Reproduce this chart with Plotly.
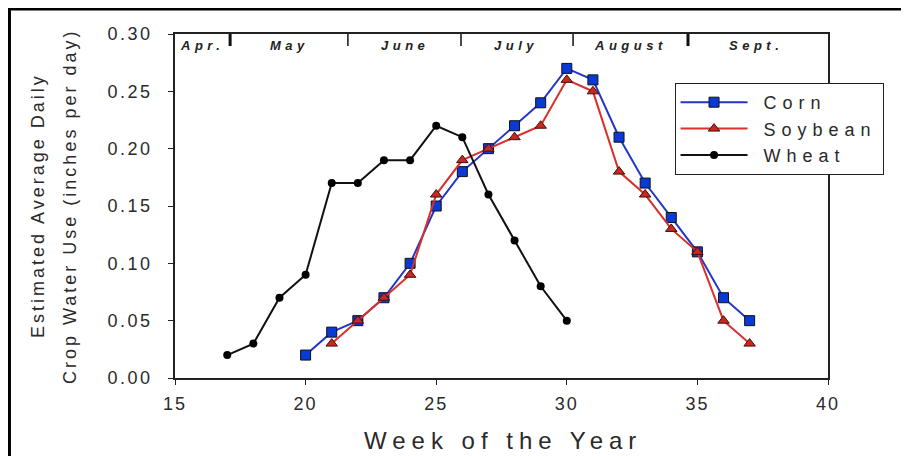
import plotly.graph_objects as go

# ---- data ----
wheat_weeks = [17, 18, 19, 20, 21, 22, 23, 24, 25, 26, 27, 28, 29, 30]
wheat_use = [0.02, 0.03, 0.07, 0.09, 0.17, 0.17, 0.19, 0.19, 0.22, 0.21, 0.16, 0.12, 0.08, 0.05]

corn_weeks = [20, 21, 22, 23, 24, 25, 26, 27, 28, 29, 30, 31, 32, 33, 34, 35, 36, 37]
corn_use = [0.02, 0.04, 0.05, 0.07, 0.10, 0.15, 0.18, 0.20, 0.22, 0.24, 0.27, 0.26, 0.21, 0.17, 0.14, 0.11, 0.07, 0.05]

soy_weeks = [21, 22, 23, 24, 25, 26, 27, 28, 29, 30, 31, 32, 33, 34, 35, 36, 37]
soy_use = [0.03, 0.05, 0.07, 0.09, 0.16, 0.19, 0.20, 0.21, 0.22, 0.26, 0.25, 0.18, 0.16, 0.13, 0.11, 0.05, 0.03]

month_names = ["Apr.", "May", "June", "July", "August", "Sept."]
month_label_weeks = [16.05, 19.4, 23.8, 28.05, 32.45, 37.25]
month_divider_weeks = [17.11, 21.62, 25.95, 30.24, 34.64]
month_divider_thick = [True, False, False, False, True]

x_ticks = [15, 20, 25, 30, 35, 40]
y_ticks = [0.00, 0.05, 0.10, 0.15, 0.20, 0.25, 0.30]

FONT = "Liberation Sans, Arial, sans-serif"
TXT = "#2a2a2a"


def spaced(s, px):
    return f'<span style="letter-spacing:{px}px">{s}</span>'


def legend_name(s):
    return spaced("\u00a0" + s, 6)


fig = go.Figure()

fig.add_trace(go.Scatter(
    x=corn_weeks, y=corn_use, mode="lines+markers", name=legend_name("Corn"),
    line=dict(color="#2436c8", width=2),
    marker=dict(symbol="square", size=10, color="#0a3ad6", line=dict(color="#111", width=1)),
))
fig.add_trace(go.Scatter(
    x=soy_weeks, y=soy_use, mode="lines+markers", name=legend_name("Soybean"),
    line=dict(color="#d8302a", width=2),
    marker=dict(symbol="triangle-up", size=10, color="#c8281e", line=dict(color="#401010", width=1)),
))
fig.add_trace(go.Scatter(
    x=wheat_weeks, y=wheat_use, mode="lines+markers", name=legend_name("Wheat"),
    line=dict(color="#111111", width=2),
    marker=dict(symbol="circle", size=8, color="#000000"),
))

shapes = []
# month dividers (short ticks hanging from top border)
for wk, thick in zip(month_divider_weeks, month_divider_thick):
    shapes.append(dict(type="line", xref="x", yref="paper", x0=wk, x1=wk, y0=1, y1=0.965,
                       line=dict(color="#111", width=3 if thick else 1.5)))
# outer frame (left + top)
shapes.append(dict(type="line", xref="paper", yref="paper", x0=-0.2535, x1=-0.2535, y0=1.0727, y1=-0.35,
                   line=dict(color="#000", width=3)))
shapes.append(dict(type="line", xref="paper", yref="paper", x0=-0.2558, x1=1.2, y0=1.0727, y1=1.0727,
                   line=dict(color="#000", width=3)))

annotations = []
for name, wk in zip(month_names, month_label_weeks):
    annotations.append(dict(x=wk, y=0.967, xref="x", yref="paper", text=f"<b><i>{spaced(name, 4.5)}</i></b>",
                            showarrow=False, xanchor="center", yanchor="middle",
                            font=dict(family=FONT, size=13, color="#222")))
# y axis title (two lines)
annotations.append(dict(x=-0.2098, y=0.5, xref="paper", yref="paper", text=spaced("Estimated Average Daily", 3),
                        textangle=-90, showarrow=False, xanchor="center", yanchor="middle",
                        font=dict(family=FONT, size=18, color=TXT)))
annotations.append(dict(x=-0.1608, y=0.5, xref="paper", yref="paper",
                        text=spaced("Crop Water Use (inches per day)", 3),
                        textangle=-90, showarrow=False, xanchor="center", yanchor="middle",
                        font=dict(family=FONT, size=18, color=TXT)))
# x axis title
annotations.append(dict(x=0.502, y=-0.183, xref="paper", yref="paper", text=spaced("Week of the Year", 6),
                        showarrow=False, xanchor="center", yanchor="middle",
                        font=dict(family=FONT, size=24, color=TXT)))

# page body has an 8px margin: shift the figure content up/left by 8px
fig.update_layout(
    width=909, height=456,
    margin=dict(l=167, r=89, t=26, b=86),
    paper_bgcolor="white", plot_bgcolor="white",
    font=dict(family=FONT, color=TXT),
    showlegend=True,
    legend=dict(x=0.765, y=0.8576, xanchor="left", yanchor="top",
                bordercolor="#222", borderwidth=1, bgcolor="white",
                font=dict(family=FONT, size=18, color=TXT), itemwidth=67),
    shapes=shapes,
    annotations=annotations,
)

fig.update_xaxes(range=[15, 40], tickvals=x_ticks, ticktext=[spaced(str(v), 2) for v in x_ticks],
                 ticks="outside", ticklen=5, tickcolor="#222", showgrid=False, zeroline=False,
                 showline=True, linecolor="#222", linewidth=1.5, mirror=True,
                 tickfont=dict(family=FONT, size=18, color=TXT), ticklabelstandoff=4)
fig.update_yaxes(range=[0, 0.30], tickvals=y_ticks, ticktext=[spaced(f"{v:.2f}", 2.5) for v in y_ticks],
                 ticks="outside", ticklen=5, tickcolor="#222", showgrid=False, zeroline=False,
                 showline=True, linecolor="#222", linewidth=1.5, mirror=True,
                 tickfont=dict(family=FONT, size=18, color=TXT), ticklabelstandoff=12)

fig.write_html("out.html")
